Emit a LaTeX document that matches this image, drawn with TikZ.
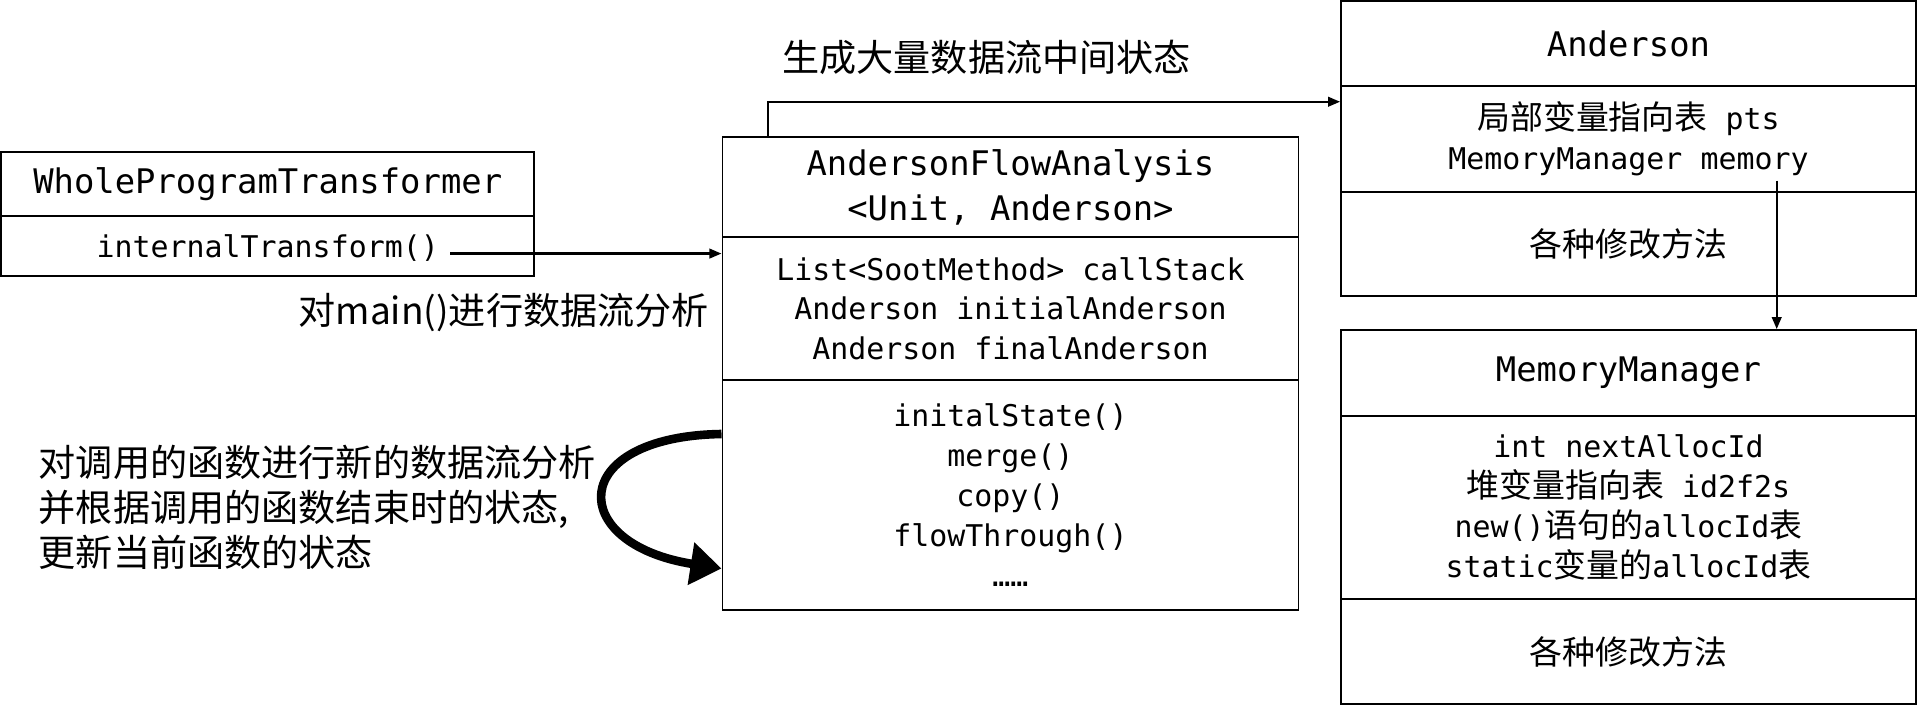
\documentclass[tikz,border=0pt]{standalone}
\usepackage{fontspec}
\setmonofont{DejaVu Sans Mono}
\newfontfamily\cjk{Noto Sans CJK SC}
\newfontfamily\cjkin[Scale=1.1]{Noto Sans CJK SC}
\usetikzlibrary{arrows.meta}
\newcommand{\zh}[1]{{\cjkin #1}}

\begin{document}
\begin{tikzpicture}[x=0.025cm,y=-0.025cm]
        \useasboundingbox (0,0) rectangle (1568,576.6);
        \tikzstyle{every node} = [rectangle, inner sep=0pt, align=center, line width=1.1pt]
        \tikzstyle{title} = [draw, font=\fontsize{19.7}{26.2}\selectfont\ttfamily]
        \tikzstyle{txt} = [font=\fontsize{17.4}{23.2}\selectfont\ttfamily]
        \tikzstyle{body} = [txt, draw]
        \tikzstyle{note} = [font=\fontsize{21.6}{25.9}\selectfont\cjk]
        \tikzstyle{arr} = [line width=1.4pt, -{Triangle[length=7pt,width=5.5pt]}]

        % WholeProgramTransformer
        \node[title, minimum width=10.9cm, minimum height=1.325cm] (w1) at (219,150.5) {WholeProgramTransformer};
        \node[body, minimum width=10.9cm, minimum height=1.225cm] (w2) at (219,201.5) {};
        \node[txt] (w3) at (219,203) {internalTransform()};

        % AndersonFlowAnalysis
        \node[title, minimum width=11.775cm, minimum height=2.05cm] (f1) at (826.5,153) {AndersonFlowAnalysis\\<Unit, Anderson>};
        \node[body, minimum width=11.775cm, minimum height=2.925cm] (f2) at (826.5,252.5) {List<SootMethod> callStack\\Anderson initialAnderson\\Anderson finalAnderson};
        \node[body, minimum width=11.775cm, minimum height=4.7cm] (f3) at (826.5,405) {initalState()\\merge()\\copy()\\flowThrough()\\……};

        % Anderson
        \node[title, minimum width=11.75cm, minimum height=1.725cm] (a1) at (1332,35.5) {Anderson};
        \node[body, minimum width=11.75cm, minimum height=2.175cm] (a2) at (1332,113.5) {\zh{局部变量指向表} pts\\MemoryManager memory};
        \node[body, minimum width=11.75cm, minimum height=2.125cm] (a3) at (1332,199.5) {\zh{各种修改方法}};

        % MemoryManager
        \node[title, minimum width=11.75cm, minimum height=1.75cm] (m1) at (1332,305) {MemoryManager};
        \node[body, minimum width=11.75cm, minimum height=3.75cm] (m2) at (1332,415) {int nextAllocId\\\zh{堆变量指向表} id2f2s\\new()\zh{语句的}allocId\zh{表}\\static\zh{变量的}allocId\zh{表}};
        \node[body, minimum width=11.75cm, minimum height=2.15cm] (m3) at (1332,533) {\zh{各种修改方法}};

        % labels
        \node[note] (l1) at (807,47) {生成大量数据流中间状态};
        \node[note] (l2) at (412,256) {对main()进行数据流分析};
        \node[note, anchor=west, align=left] (l3) at (31,415) {对调用的函数进行新的数据流分析\\并根据调用的函数结束时的状态,\\更新当前函数的状态};

        \coordinate (c1) at ([xshift=0.21cm,yshift=-0.11cm]w3.east);
        \coordinate (c2) at ([xshift=8.925cm,yshift=0.25cm]a2.south west);
        \draw[arr] (c1) -- (c1 -| f2.west);
        \draw[arr] ([xshift=0.95cm]f1.north west) |- ([yshift=-0.35cm]a2.north west);
        \draw[arr] (c2) -- (c2 |- m1.north);
        \draw[line width=5pt, -{Triangle[length=18pt,width=24pt]}] ([yshift=1.25cm]f3.west) .. controls (463,357) and (463,445) .. ([yshift=-1.5cm]f3.west);
      \end{tikzpicture}
\end{document}
